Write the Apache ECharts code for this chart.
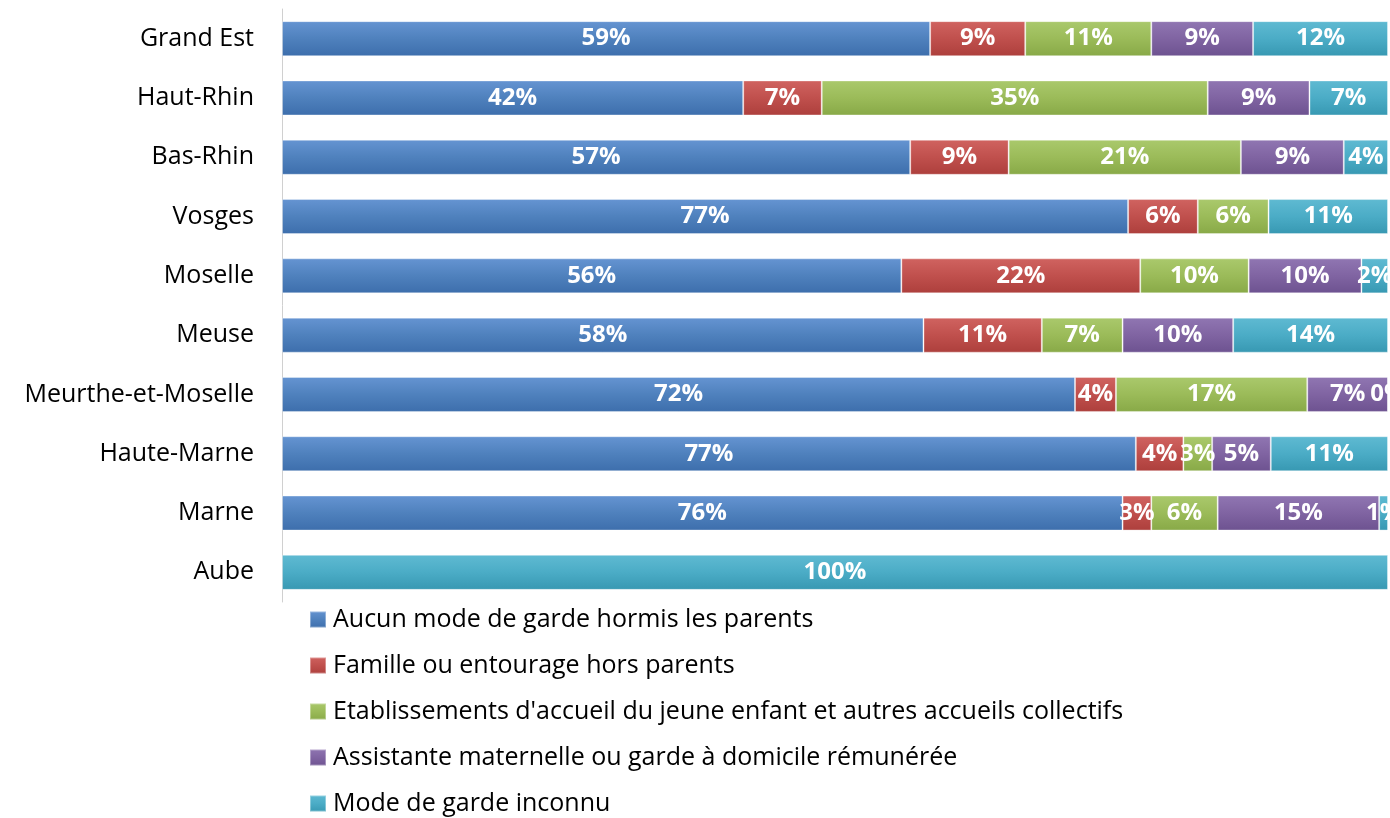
<!DOCTYPE html>
<html lang="fr">
<head>
    <meta charset="UTF-8">
    <title>Modes de garde</title>
    <script src="https://cdn.jsdelivr.net/npm/echarts@6/dist/echarts.min.js"></script>
    <style>
        html, body { margin: 0; padding: 0; background: #fff; }
        #main { width: 1390px; height: 818px; }
    </style>
</head>
<body>
<div id="main"></div>
<script>
    // territoires, du haut vers le bas
    var territoires = ['Grand Est', 'Haut-Rhin', 'Bas-Rhin', 'Vosges', 'Moselle', 'Meuse',
        'Meurthe-et-Moselle', 'Haute-Marne', 'Marne', 'Aube'];
    // parts en %
    var aucun     = [58.6, 41.7, 56.8, 76.5, 56.0, 58.0, 71.7, 77.2, 76.0, null];
    var famille   = [8.6, 7.1, 8.9, 6.3, 21.6, 10.7, 3.7, 4.3, 2.6, null];
    var collectif = [11.4, 34.9, 21.0, 6.4, 9.8, 7.3, 17.3, 2.6, 6.0, null];
    var assmat    = [9.2, 9.2, 9.3, null, 10.2, 10.0, 7.3, 5.3, 14.6, null];
    var inconnu   = [12.2, 7.1, 4.0, 10.8, 2.4, 14.0, 0, 10.6, 0.8, 100];

    var noms = ['Aucun mode de garde hormis les parents',
        'Famille ou entourage hors parents',
        "Etablissements d'accueil du jeune enfant et autres accueils collectifs",
        'Assistante maternelle ou garde à domicile rémunérée',
        'Mode de garde inconnu'];
    var valeurs = [aucun, famille, collectif, assmat, inconnu];
    // couleurs Excel : haut clair, bas foncé
    var couleurs = [
        ['#6594d2', '#4f81bd', '#3d6eac'],
        ['#d06360', '#c0504d', '#ad3f3c'],
        ['#aac96c', '#9bbb59', '#88a947'],
        ['#9076b2', '#8064a2', '#6d5290'],
        ['#5fbad2', '#4bacc6', '#3798b2']
    ];

    function degrade(c) {
        return new echarts.graphic.LinearGradient(0, 0, 0, 1, [
            {offset: 0, color: c[0]},
            {offset: 0.5, color: c[1]},
            {offset: 1, color: c[2]}
        ]);
    }

    var series = [];
    for (var i = 0; i < noms.length; i++) {
        series.push({
            name: noms[i],
            type: 'bar',
            stack: 'total',
            barWidth: 35,
            data: valeurs[i],
            itemStyle: {
                color: degrade(couleurs[i]),
                borderColor: 'rgba(255,255,255,0.35)',
                borderWidth: 1
            },
            label: {
                show: true,
                position: 'inside',
                color: '#fff',
                fontFamily: 'Open Sans',
                fontWeight: 'bold',
                fontSize: 24,
                formatter: function (p) {
                    if (p.value === null || p.value === undefined) return '';
                    return Math.round(p.value) + '%';
                }
            }
        });
    }

    var myChart = echarts.init(document.getElementById('main'));
    var option = {
        animation: false,
        grid: {left: 282, right: 2, top: 9, bottom: 216},
        legend: {
            orient: 'vertical',
            left: 309,
            top: 607,
            padding: 0,
            itemWidth: 16,
            itemHeight: 16,
            itemGap: 21,
            icon: 'rect',
            textStyle: {fontFamily: 'Open Sans', fontSize: 25, color: '#000', padding: [0, 0, 0, 2]},
            data: noms
        },
        xAxis: {
            type: 'value',
            min: 0,
            max: 100,
            show: false
        },
        yAxis: {
            type: 'category',
            inverse: true,
            data: territoires,
            axisLine: {show: true, lineStyle: {color: '#d0d0d0', width: 1}},
            axisTick: {show: false},
            axisLabel: {fontFamily: 'Open Sans', fontSize: 25, color: '#000', margin: 28, padding: [4, 0, 0, 0]}
        },
        series: series
    };
    myChart.setOption(option);
</script>
</body>
</html>
